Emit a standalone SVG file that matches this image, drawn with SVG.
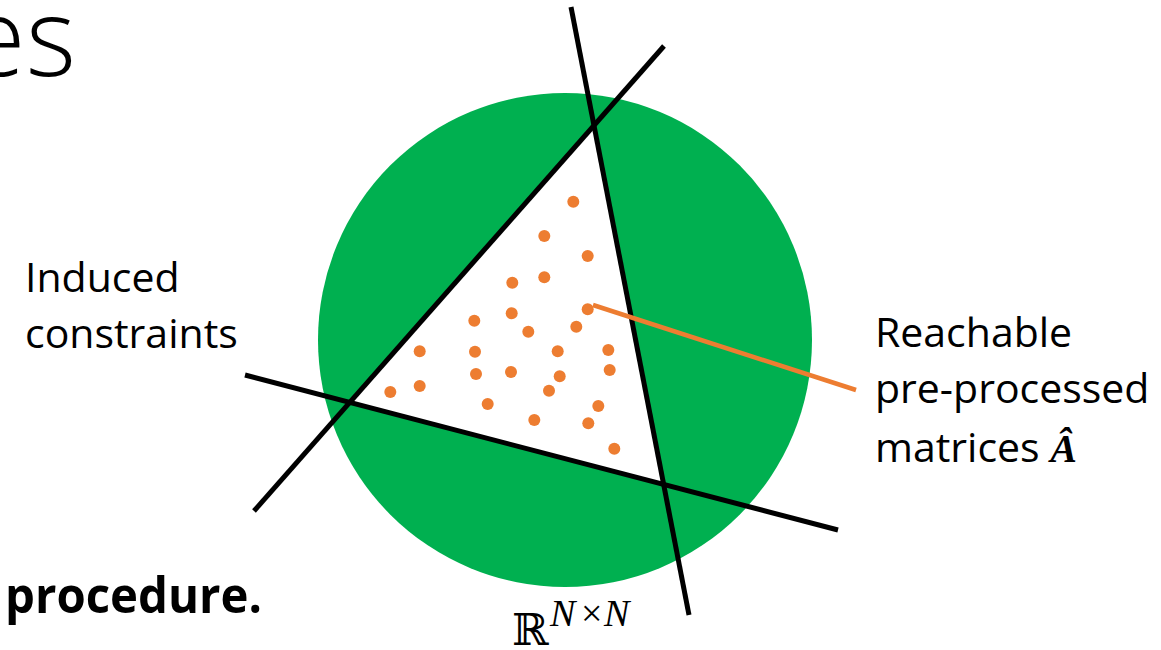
<svg xmlns="http://www.w3.org/2000/svg" width="1161" height="650" viewBox="0 0 1161 650">
  <style>
    .lbl { font-family: "Open Sans", "Liberation Sans", sans-serif; font-size: 41px; fill: #000; }
    .cut { stroke: #000; stroke-width: 5; fill: none; }
    .dot { fill: #ED7D31; }
    .math { font-family: "Liberation Serif", "DejaVu Serif", serif; fill: #000; }
  </style>
  <rect x="0" y="0" width="1161" height="650" fill="#fff"/>

  <g id="title-fragment">
    <text x="76" y="76" text-anchor="end" font-family="'Open Sans', 'Liberation Sans', sans-serif" font-size="108" font-weight="300" fill="#000">es</text>
  </g>
  <g id="body-fragment">
    <text x="5" y="613" font-family="'Open Sans', 'Liberation Sans', sans-serif" font-size="50" font-weight="bold" fill="#000" textLength="257" lengthAdjust="spacingAndGlyphs">procedure.</text>
  </g>

  <g id="space-R">
    <circle cx="565" cy="340" r="247" fill="#00B050"/>
  </g>

  <g id="feasible-region">
    <polygon points="593.8,124.6 349.6,402.3 663.7,484.4" fill="#fff"/>
  </g>

  <g id="constraints">
    <line class="cut" x1="571" y1="7" x2="689" y2="615"/>
    <line class="cut" x1="254" y1="511" x2="664" y2="46"/>
    <line class="cut" x1="245" y1="375" x2="838" y2="530"/>
  </g>

  <g id="matrices-dots">
    <circle class="dot" cx="573.3" cy="201.7" r="6"/>
    <circle class="dot" cx="544.3" cy="236" r="6"/>
    <circle class="dot" cx="587.7" cy="256" r="6"/>
    <circle class="dot" cx="512.3" cy="282.7" r="6"/>
    <circle class="dot" cx="544.3" cy="277.3" r="6"/>
    <circle class="dot" cx="587.7" cy="309.3" r="6"/>
    <circle class="dot" cx="474.3" cy="320.7" r="6"/>
    <circle class="dot" cx="511.7" cy="313.3" r="6"/>
    <circle class="dot" cx="528.3" cy="331.7" r="6"/>
    <circle class="dot" cx="576.3" cy="326.7" r="6"/>
    <circle class="dot" cx="419.7" cy="351.3" r="6"/>
    <circle class="dot" cx="475" cy="351.7" r="6"/>
    <circle class="dot" cx="557.7" cy="351.3" r="6"/>
    <circle class="dot" cx="608.3" cy="350" r="6"/>
    <circle class="dot" cx="609.7" cy="370" r="6"/>
    <circle class="dot" cx="476" cy="374" r="6"/>
    <circle class="dot" cx="511" cy="372" r="6"/>
    <circle class="dot" cx="559.7" cy="376.3" r="6"/>
    <circle class="dot" cx="419.7" cy="386" r="6"/>
    <circle class="dot" cx="390.3" cy="392" r="6"/>
    <circle class="dot" cx="549" cy="390.7" r="6"/>
    <circle class="dot" cx="487.7" cy="404" r="6"/>
    <circle class="dot" cx="598.3" cy="406" r="6"/>
    <circle class="dot" cx="534.3" cy="420" r="6"/>
    <circle class="dot" cx="588.3" cy="423.3" r="6"/>
    <circle class="dot" cx="614.3" cy="448.7" r="6"/>
  </g>

  <g id="connectors">
    <line x1="593" y1="305" x2="856" y2="390" stroke="#ED7D31" stroke-width="4.5"/>
  </g>

  <g id="label-space">
    <text x="512" y="645" font-family="'DejaVu Serif', serif" font-size="44" fill="#000">ℝ</text>
    <text class="math" y="626" font-size="38" font-style="italic"><tspan x="550">N</tspan><tspan x="581" font-style="normal">×</tspan><tspan x="604">N</tspan></text>
  </g>

  <g id="label-induced">
    <text class="lbl" x="25" y="292">Induced</text>
    <text class="lbl" x="25" y="348">constraints</text>
  </g>

  <g id="label-reachable">
    <text class="lbl" x="875" y="347">Reachable</text>
    <text class="lbl" x="875" y="403">pre-processed</text>
    <text class="lbl" x="875" y="462">matrices <tspan class="math" font-size="40" font-weight="bold" font-style="italic">Â</tspan></text>
  </g>
</svg>
